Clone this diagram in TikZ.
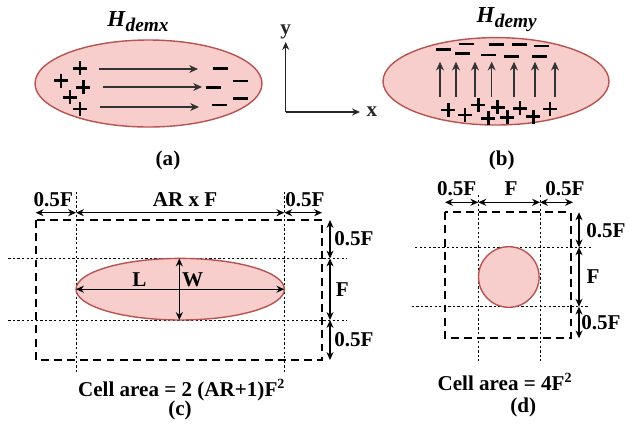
\documentclass[tikz,border=0pt]{standalone}
\usepackage{fontspec}
\setmainfont{Liberation Serif}
\usetikzlibrary{arrows.meta}
\definecolor{magpink}{HTML}{F8CECC}
\definecolor{magred}{HTML}{B85450}

\begin{document}
\begin{tikzpicture}[x=0.02cm,y=-0.02cm,
    font=\bfseries\fontsize{12}{14}\selectfont,
    >={Stealth[length=4.5pt,width=4pt]},
    magnet/.style={draw=magred,fill=magpink,line width=0.8pt},
    cellbox/.style={line width=1.1pt,dash pattern=on 4.5pt off 3pt},
    gridline/.style={line width=0.5pt,dash pattern=on 1.3pt off 1.3pt},
    dim/.style={<->,line width=0.6pt},
    field/.style={-{Stealth[length=5pt,width=4.5pt]},line width=0.6pt,black!80},
    charge/.style={line width=1.4pt}]
    \useasboundingbox (0,0) rectangle (629,430);
    % (a) demagnetising field along x
    \draw[magnet] (148.5,83.5) ellipse (113.5 and 43.5);
    \node (Hx) at (138,22) {\fontsize{13}{14}\selectfont\textit{H}\raisebox{-2.8pt}{\fontsize{11}{12}\selectfont\textit{demx}}};
    \draw[field] (99,69)--(198,69);
    \draw[field] (103,87)--(202,87);
    \draw[field] (100,107)--(199,107);
    \foreach \x/\y in {80/68.3,61/80.7,83.3/87.3,70/97.3,80/109}
        \draw[charge] (\x-7,\y)--(\x+7,\y) (\x,\y-7)--(\x,\y+7);
    \foreach \x/\y in {220/68.3,213.3/87.7,240/81,240/98.3,219.3/105}
        \draw[charge] (\x-7.5,\y)--(\x+7.5,\y);
    \node (capa) at (168,160) {(a)};
    % axes
    \coordinate (O) at (285.7,112);
    \draw[->,line width=0.8pt,black!85] (O)--(285.7,42) node[above=-2pt] (ylab) {y};
    \draw[->,line width=0.8pt,black!85] (O)--(360,112) node[right] (xlab) {x};
    % (b) demagnetising field along y
    \draw[magnet] (496,81.3) ellipse (113 and 43.7);
    \node (Hy) at (506.7,20) {\fontsize{13}{14}\selectfont\textit{H}\raisebox{-2.8pt}{\fontsize{11}{12}\selectfont\textit{demy}}};
    \foreach \x in {440,456,475,491.7,514,535,555}
        \draw[field] (\x,96.7)--(\x,61.7);
    \foreach \x/\y in {448.3/110,465/115,478.3/105,488.3/118.3,497.7/107.3,507.3/117.3,520/108.3,533.3/116.7,550/109}
        \draw[charge] (\x-7,\y)--(\x+7,\y) (\x,\y-7)--(\x,\y+7);
    \foreach \x/\y in {443.3/49.3,466.7/44,496/44.7,519/44.7,541.7/46,462.7/53.3,488.3/55,511.7/56.7,539/56.7}
        \draw[charge] (\x-7.5,\y)--(\x+7.5,\y);
    \node (capb) at (501.7,160) {(b)};
    % (c) elliptical cell
    \draw[cellbox] (35.7,220) rectangle (322,360);
    \draw[gridline] (76,191.7)--(76,373);
    \draw[gridline] (284.3,191.7)--(284.3,373);
    \draw[gridline] (8.3,258.5)--(347,258.5);
    \draw[gridline] (8.3,320)--(347,320);
    \draw[magnet] (180.2,289.2) ellipse (104.2 and 30.8);
    \draw[dim] (76,289.2)--(284.3,289.2);
    \draw[dim] (179.3,258.5)--(179.3,320);
    \node (L) at (139.3,280) {L};
    \node (W) at (192.7,280) {W};
    \foreach \a/\b in {35.7/76,76/284.3,284.3/322}
        \draw[dim] (\a,212.7)--(\b,212.7);
    \foreach \a/\b in {220/258.5,258.5/320,320/360}
        \draw[dim] (330,\a)--(330,\b);
    \node (ctl) at (53.3,200) {0.5F};
    \node (ctm) at (185,200) {AR x F};
    \node (ctr) at (305,200) {0.5F};
    \node[anchor=west,inner sep=0pt] (crt) at (334,238.3) {0.5F};
    \node (crm) at (342.3,290) {F};
    \node[anchor=west,inner sep=0pt] (crb) at (334,340) {0.5F};
    \node (careac) at (181.7,390) {Cell area = 2 (AR+1)F\textsuperscript{2}};
    \node (capc) at (180,410) {(c)};
    % (d) circular cell
    \draw[cellbox] (445,212.3) rectangle (570.7,338.3);
    \draw[gridline] (478.3,195)--(478.3,360.7);
    \draw[gridline] (540,195)--(540,360.7);
    \draw[gridline] (415,247.3)--(591.7,247.3);
    \draw[gridline] (411.7,306.7)--(588.3,306.7);
    \draw[magnet] (508.8,277) circle (30.3);
    \foreach \a/\b in {445/478.3,478.3/540,540/573}
        \draw[dim] (\a,202.3)--(\b,202.3);
    \foreach \a/\b in {212.3/247.3,247.3/306.7,306.7/338.3}
        \draw[dim] (579,\a)--(579,\b);
    \node (dtl) at (456.7,188.3) {0.5F};
    \node (dtm) at (511,188.3) {F};
    \node (dtr) at (565,188.3) {0.5F};
    \node[anchor=west,inner sep=0pt] (drt) at (586,231) {0.5F};
    \node (drm) at (593,277) {F};
    \node[anchor=west,inner sep=0pt] (drb) at (581,322.7) {0.5F};
    \node (caread) at (505,381.7) {Cell area = 4F\textsuperscript{2}};
    \node (capd) at (523.3,407.3) {(d)};
\end{tikzpicture}
\end{document}
